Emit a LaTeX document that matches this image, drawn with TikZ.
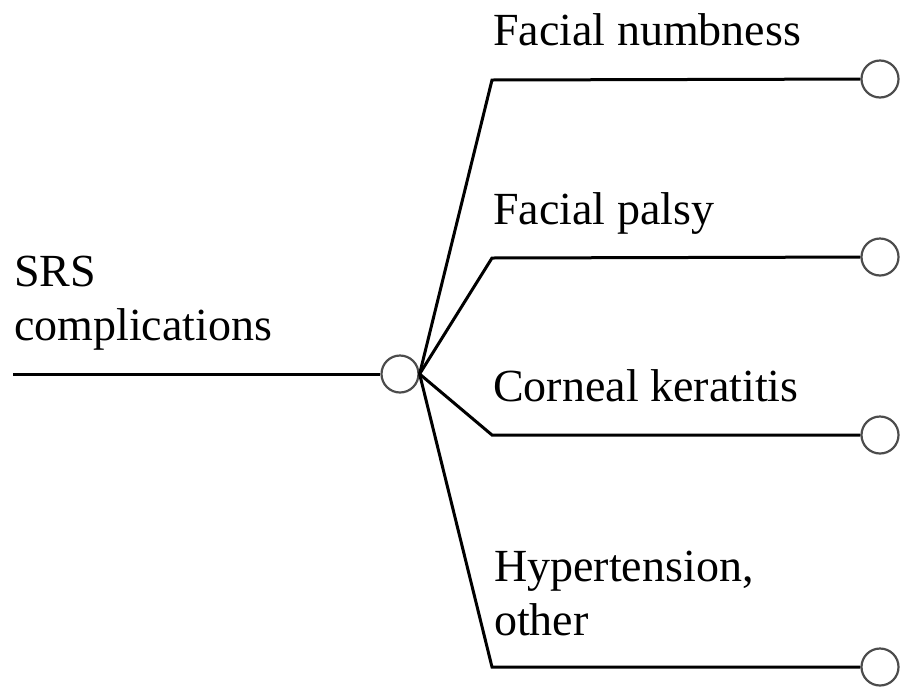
\documentclass[tikz,border=0pt]{standalone}
\usepackage{fontspec}
\setmainfont{Liberation Serif}
\usepackage{tikz}
\usetikzlibrary{positioning}
\tikzset{chance/.style={circle, draw=black!70, line width=2.2pt, fill=white, minimum size=37pt, inner sep=0pt}}
\tikzset{branch/.style={black, line width=3pt, line join=miter}}
\tikzset{lbl/.style={anchor=base west, inner sep=0pt, align=left, font=\fontsize{46}{54}\selectfont}}

\begin{document}
\begin{tikzpicture}[x=1pt, y=-1pt]
    \useasboundingbox (0,0) rectangle (902,686);
    \coordinate (root) at (13,374);
    \node [chance](hub) at (400,374) {};
    \coordinate (k1) at (492,80);
    \coordinate (k2) at (492,258);
    \coordinate (k3) at (492,435);
    \coordinate (k4) at (492,667);
    \node [chance](c1) at (880,79) {};
    \node [chance](c2) at (880,257) {};
    \node [chance](c3) at (880,435) {};
    \node [chance](c4) at (880,667) {};
    % multi-line labels sit on the baseline of their last line
    \node [lbl](srs) at (14,340) {SRS\\complications};
    \node [lbl](t1) at (493,45) {Facial numbness};
    \node [lbl](t2) at (493,224) {Facial palsy};
    \node [lbl](t3) at (493,401) {Corneal keratitis};
    \node [lbl](t4) at (494,635) {Hypertension,\\other};

    \draw[branch] (root) -- (hub);
    \draw[branch] (hub.east) -- (k1) -- (c1);
    \draw[branch] (hub.east) -- (k2) -- (c2);
    \draw[branch] (hub.east) -- (k3) -- (c3);
    \draw[branch] (hub.east) -- (k4) -- (c4);
\end{tikzpicture}
\end{document}
